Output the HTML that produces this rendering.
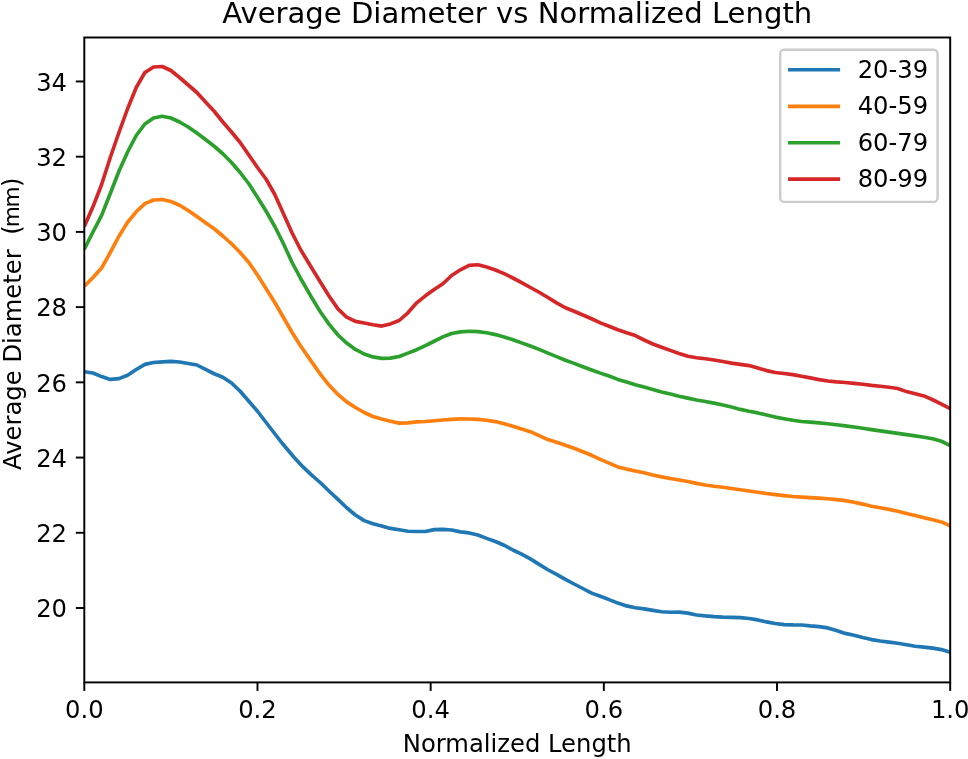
<!DOCTYPE html>
<html><head><meta charset="utf-8"><title>Average Diameter vs Normalized Length</title>
<style>
html,body{margin:0;padding:0;background:#fff;}
body{width:968px;height:759px;overflow:hidden;}
svg{display:block;}
text{font-family:"DejaVu Sans","Liberation Sans",sans-serif;fill:#000;}
</style></head><body>
<svg width="968" height="759" viewBox="0 0 968 759">
<rect x="0" y="0" width="968" height="759" fill="#fff"/>
<defs><clipPath id="c"><rect x="84.3" y="37.5" width="865.9000000000001" height="644.9"/></clipPath></defs>
<g clip-path="url(#c)">
<polyline points="84.30,371.75 92.96,373.00 101.62,376.60 110.28,379.40 118.94,378.60 127.59,375.25 136.25,369.50 144.91,364.40 153.57,362.50 162.23,361.90 170.89,361.40 179.55,362.00 188.21,363.50 196.87,365.00 205.53,369.40 214.19,373.75 222.84,377.25 231.50,383.00 240.16,391.25 248.82,401.25 257.48,411.25 266.14,422.50 274.80,433.75 283.46,444.80 294.20,457.50 303.00,466.90 311.71,475.10 320.46,482.75 329.20,491.25 337.95,499.40 346.69,507.75 355.44,515.00 364.19,520.60 372.93,523.75 381.68,525.90 390.43,528.40 399.17,529.75 407.92,531.25 416.67,531.45 425.41,531.50 434.16,529.60 442.91,529.40 451.65,530.00 460.40,531.90 469.15,532.90 477.89,535.00 486.64,538.40 495.39,541.50 504.13,545.25 512.88,550.00 521.62,554.10 530.37,558.90 539.12,564.40 547.86,569.75 556.61,574.40 565.36,579.40 574.10,584.00 582.85,588.50 591.60,593.10 600.34,596.25 609.09,599.60 617.84,603.10 626.58,605.90 635.33,607.75 644.08,608.90 652.82,610.40 661.57,611.75 670.32,612.25 679.06,612.10 687.81,613.10 696.55,615.00 705.30,615.90 714.05,616.60 722.79,617.10 731.54,617.40 740.29,617.60 749.03,618.50 757.78,619.90 766.53,621.90 775.27,623.50 784.02,624.60 792.77,624.90 801.51,625.00 810.26,625.90 819.01,626.60 827.75,627.90 836.50,630.60 845.25,633.40 853.99,635.20 862.74,637.60 871.48,639.60 880.23,641.00 888.98,642.10 897.72,643.25 906.47,644.75 915.22,646.25 923.96,647.10 932.71,648.10 941.46,649.60 950.20,652.25" fill="none" stroke="#1f77b4" stroke-width="3.64" stroke-linejoin="round" stroke-linecap="butt"/>
<polyline points="84.30,286.25 92.96,277.50 101.62,268.00 110.28,252.50 118.94,236.25 127.59,222.25 136.25,211.80 144.91,203.60 153.57,200.00 162.23,199.50 170.89,201.50 179.55,205.25 188.21,210.50 196.87,216.60 205.53,222.75 214.19,228.75 222.84,236.00 231.50,243.75 240.16,252.50 248.82,262.50 257.48,275.00 266.14,288.75 274.80,302.50 283.46,317.50 292.12,332.50 300.78,346.25 311.71,361.90 320.46,374.40 329.20,385.30 337.95,394.40 346.69,401.90 355.44,407.50 364.19,412.50 372.93,416.50 381.68,419.10 390.43,421.25 399.17,423.10 407.92,422.90 416.67,421.90 425.41,421.50 434.16,420.75 442.91,420.00 451.65,419.40 460.40,418.90 469.15,419.00 477.89,419.40 486.64,420.25 495.39,421.60 504.13,423.75 512.88,426.25 521.62,429.00 530.37,431.70 539.12,435.60 547.86,439.60 556.61,442.30 565.36,445.20 574.10,448.30 582.85,451.75 591.60,455.30 600.34,459.40 609.09,463.10 617.84,466.90 626.58,469.10 635.33,471.00 644.08,472.80 652.82,475.00 661.57,476.90 670.32,478.50 679.06,480.00 687.81,481.50 696.55,483.40 705.30,485.00 714.05,486.25 722.79,487.25 731.54,488.50 740.29,489.75 749.03,491.00 757.78,492.30 766.53,493.50 775.27,494.60 784.02,495.60 792.77,496.50 801.51,497.10 810.26,497.60 819.01,498.10 827.75,498.75 836.50,499.60 845.25,500.60 853.99,502.20 862.74,504.10 871.48,506.25 880.23,507.75 888.98,509.40 897.72,511.25 906.47,513.40 915.22,515.60 923.96,517.75 932.71,519.75 941.46,521.90 950.20,525.90" fill="none" stroke="#ff7f0e" stroke-width="3.64" stroke-linejoin="round" stroke-linecap="butt"/>
<polyline points="84.30,249.20 92.96,232.00 101.62,215.40 110.28,193.50 118.94,171.25 127.59,152.00 136.25,135.50 144.91,124.00 153.57,118.00 162.23,116.25 170.89,118.00 179.55,122.00 188.21,127.00 196.87,133.00 205.53,139.50 214.19,146.25 222.84,153.75 231.50,162.50 240.16,172.50 248.82,183.75 257.48,197.25 266.14,211.25 274.80,226.50 283.46,243.75 292.12,262.50 300.78,278.75 311.71,297.60 320.46,312.00 329.20,324.40 337.95,335.00 346.69,343.10 355.44,349.40 364.19,354.00 372.93,356.90 381.68,358.40 390.43,358.10 399.17,356.50 407.92,353.10 416.67,349.70 425.41,345.60 434.16,341.25 442.91,336.90 451.65,333.50 460.40,331.90 469.15,331.25 477.89,331.60 486.64,332.75 495.39,334.60 504.13,336.90 512.88,339.75 521.62,342.90 530.37,346.00 539.12,349.40 547.86,353.10 556.61,356.60 565.36,360.30 574.10,363.40 582.85,366.75 591.60,370.00 600.34,373.10 609.09,376.00 617.84,379.40 626.58,382.10 635.33,384.75 644.08,387.10 652.82,389.40 661.57,391.90 670.32,394.10 679.06,396.25 687.81,398.10 696.55,400.00 705.30,401.50 714.05,403.10 722.79,405.00 731.54,407.10 740.29,409.40 749.03,411.25 757.78,412.90 766.53,415.00 775.27,417.10 784.02,418.75 792.77,420.25 801.51,421.50 810.26,422.10 819.01,422.90 827.75,423.75 836.50,424.75 845.25,425.90 853.99,427.00 862.74,428.20 871.48,429.60 880.23,430.90 888.98,432.10 897.72,433.40 906.47,434.60 915.22,435.90 923.96,437.25 932.71,438.75 941.46,441.25 950.20,445.60" fill="none" stroke="#2ca02c" stroke-width="3.64" stroke-linejoin="round" stroke-linecap="butt"/>
<polyline points="84.30,226.40 92.96,206.80 101.62,184.50 110.28,157.50 118.94,132.50 127.59,108.75 136.25,87.50 144.91,72.50 153.57,67.00 162.23,66.50 170.89,70.50 179.55,77.50 188.21,85.00 196.87,92.50 205.53,102.00 214.19,111.25 222.84,122.00 231.50,132.00 240.16,142.50 248.82,155.00 257.48,167.50 266.14,179.25 274.80,194.50 283.46,213.75 292.12,233.00 300.78,250.00 311.71,268.00 320.46,282.30 329.20,296.25 337.95,308.90 346.69,317.20 355.44,321.40 364.19,323.00 372.93,324.80 381.68,326.10 390.43,323.90 399.17,320.50 407.92,312.80 416.67,302.80 425.41,295.80 434.16,289.60 442.91,283.75 451.65,275.50 460.40,269.80 469.15,265.40 477.89,264.70 486.64,267.00 495.39,270.00 504.13,273.60 512.88,278.00 521.62,282.60 530.37,287.50 539.12,292.25 547.86,297.50 556.61,302.90 565.36,307.75 574.10,311.25 582.85,315.00 591.60,318.75 600.34,322.90 609.09,326.25 617.84,329.75 626.58,332.75 635.33,335.60 644.08,340.00 652.82,344.00 661.57,347.25 670.32,350.40 679.06,353.50 687.81,356.25 696.55,357.75 705.30,358.75 714.05,360.00 722.79,361.50 731.54,363.10 740.29,364.40 749.03,365.60 757.78,367.90 766.53,370.60 775.27,372.50 784.02,373.50 792.77,374.60 801.51,376.25 810.26,377.90 819.01,379.60 827.75,381.00 836.50,381.90 845.25,382.50 853.99,383.40 862.74,384.30 871.48,385.40 880.23,386.25 888.98,387.25 897.72,388.50 906.47,391.60 915.22,393.75 923.96,395.90 932.71,399.75 941.46,404.10 950.20,408.75" fill="none" stroke="#d62728" stroke-width="3.64" stroke-linejoin="round" stroke-linecap="butt"/>
</g>
<rect x="84.3" y="37.5" width="865.90" height="644.90" fill="none" stroke="#000" stroke-width="1.94" stroke-linejoin="miter"/>
<line x1="84.30" y1="682.4" x2="84.30" y2="690.9" stroke="#000" stroke-width="1.94"/>
<text x="84.30" y="718.0" font-size="24.25" text-anchor="middle">0.0</text>
<line x1="257.48" y1="682.4" x2="257.48" y2="690.9" stroke="#000" stroke-width="1.94"/>
<text x="257.48" y="718.0" font-size="24.25" text-anchor="middle">0.2</text>
<line x1="430.66" y1="682.4" x2="430.66" y2="690.9" stroke="#000" stroke-width="1.94"/>
<text x="430.66" y="718.0" font-size="24.25" text-anchor="middle">0.4</text>
<line x1="603.84" y1="682.4" x2="603.84" y2="690.9" stroke="#000" stroke-width="1.94"/>
<text x="603.84" y="718.0" font-size="24.25" text-anchor="middle">0.6</text>
<line x1="777.02" y1="682.4" x2="777.02" y2="690.9" stroke="#000" stroke-width="1.94"/>
<text x="777.02" y="718.0" font-size="24.25" text-anchor="middle">0.8</text>
<line x1="950.20" y1="682.4" x2="950.20" y2="690.9" stroke="#000" stroke-width="1.94"/>
<text x="950.20" y="718.0" font-size="24.25" text-anchor="middle">1.0</text>
<line x1="75.8" y1="608.00" x2="84.3" y2="608.00" stroke="#000" stroke-width="1.94"/>
<text x="67.0" y="617.30" font-size="24.25" text-anchor="end">20</text>
<line x1="75.8" y1="532.78" x2="84.3" y2="532.78" stroke="#000" stroke-width="1.94"/>
<text x="67.0" y="542.08" font-size="24.25" text-anchor="end">22</text>
<line x1="75.8" y1="457.56" x2="84.3" y2="457.56" stroke="#000" stroke-width="1.94"/>
<text x="67.0" y="466.86" font-size="24.25" text-anchor="end">24</text>
<line x1="75.8" y1="382.34" x2="84.3" y2="382.34" stroke="#000" stroke-width="1.94"/>
<text x="67.0" y="391.64" font-size="24.25" text-anchor="end">26</text>
<line x1="75.8" y1="307.12" x2="84.3" y2="307.12" stroke="#000" stroke-width="1.94"/>
<text x="67.0" y="316.42" font-size="24.25" text-anchor="end">28</text>
<line x1="75.8" y1="231.90" x2="84.3" y2="231.90" stroke="#000" stroke-width="1.94"/>
<text x="67.0" y="241.20" font-size="24.25" text-anchor="end">30</text>
<line x1="75.8" y1="156.68" x2="84.3" y2="156.68" stroke="#000" stroke-width="1.94"/>
<text x="67.0" y="165.98" font-size="24.25" text-anchor="end">32</text>
<line x1="75.8" y1="81.46" x2="84.3" y2="81.46" stroke="#000" stroke-width="1.94"/>
<text x="67.0" y="90.76" font-size="24.25" text-anchor="end">34</text>
<text x="517.25" y="22.9" font-size="29.1" text-anchor="middle">Average Diameter vs Normalized Length</text>
<text x="517.25" y="751.8" font-size="24.25" text-anchor="middle">Normalized Length</text>
<text transform="translate(21.0,469.9) rotate(-90)" font-size="24.25" text-anchor="start" xml:space="preserve" style="white-space:pre">Average Diameter  <tspan dx="-0.8" dy="-0.9">(</tspan><tspan font-size="21.6" dx="-1.85" dy="-1.3" letter-spacing="-1.25">mm</tspan><tspan dx="0.6" dy="1.3">)</tspan></text>
<rect x="780.2" y="49.7" width="157.40" height="152.20" rx="4.0" ry="4.0" fill="#fff" fill-opacity="0.8" stroke="#ccc" stroke-width="2.4"/>
<line x1="788.0" y1="69.8" x2="840.1" y2="69.8" stroke="#1f77b4" stroke-width="3.64"/>
<text x="857.7" y="77.70" font-size="24.25">20-39</text>
<line x1="788.0" y1="106.4" x2="840.1" y2="106.4" stroke="#ff7f0e" stroke-width="3.64"/>
<text x="857.7" y="114.30" font-size="24.25">40-59</text>
<line x1="788.0" y1="142.7" x2="840.1" y2="142.7" stroke="#2ca02c" stroke-width="3.64"/>
<text x="857.7" y="150.60" font-size="24.25">60-79</text>
<line x1="788.0" y1="179.1" x2="840.1" y2="179.1" stroke="#d62728" stroke-width="3.64"/>
<text x="857.7" y="187.00" font-size="24.25">80-99</text>
</svg></body></html>
